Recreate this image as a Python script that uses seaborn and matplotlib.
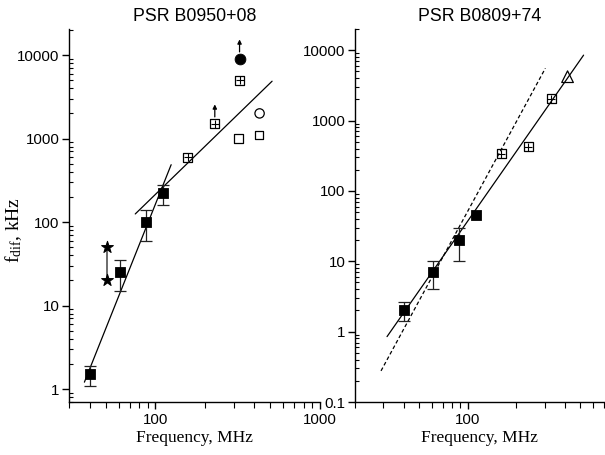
import matplotlib
matplotlib.use("Agg")
import matplotlib.pyplot as plt
import matplotlib.ticker as mticker
from matplotlib.transforms import offset_copy
import seaborn as sns
import numpy as np

# ---------------- data: PSR B0950+08 ----------------
a_sq_f = [40, 61, 88, 111]
a_sq_v = [1.5, 25, 100, 220]
a_sq_lo = [1.1, 15, 60, 160]
a_sq_hi = [1.9, 35, 140, 280]
a_star_f = [51, 51]
a_star_v = [50, 20]
a_cross_f = [158, 230, 325]
a_cross_v = [600, 1500, 5000]
a_dot_f = [325]
a_dot_v = [9000]
a_osq_f = [320, 427]
a_osq_v = [1000, 1100]
a_ocirc_f = [430]
a_ocirc_v = [2000]
a_arrow_f = [230, 325]
a_arrow_v = [1500, 9000]
a_fit1_f = [37.2, 125]
a_fit1_v = [1.21, 486]
a_fit2_f = [75.7, 512]
a_fit2_v = [125, 4860]

# ---------------- data: PSR B0809+74 ----------------
b_sq_f = [40, 61, 88, 112]
b_sq_v = [2, 7, 20, 45]
b_err_f = [40, 61, 88]
b_err_v = [2, 7, 20]
b_err_lo = [1.4, 4.1, 10]
b_err_hi = [2.6, 10, 30]
b_cross_f = [161, 237, 330]
b_cross_v = [335, 425, 2050]
b_tri_f = [416]
b_tri_v = [4200]
b_fit_f = [31.6, 523]
b_fit_v = [0.85, 8500]
b_dash_f = [29, 303]
b_dash_v = [0.277, 5530]

sns.set_theme(style="ticks")
plt.rcParams["font.family"] = ["Liberation Sans", "DejaVu Sans"]
plt.rcParams["axes.linewidth"] = 1.0
plt.rcParams["mathtext.fontset"] = "custom"
plt.rcParams["mathtext.rm"] = "Liberation Serif"
plt.rcParams["mathtext.it"] = "Liberation Serif:italic"
for key in ["text.color", "axes.labelcolor", "xtick.color", "ytick.color",
            "axes.edgecolor", "axes.titlecolor"]:
    plt.rcParams[key] = "black"

fig = plt.figure(figsize=(6.05, 4.55), dpi=100)
axA = fig.add_axes([69/605, 53/455, 251/605, 373/455])
axB = fig.add_axes([355/605, 53/455, 249/605, 373/455])

K = "black"
ms_sq = 55
ms_cross = 42


def crossed(ax, f, v):
    sns.scatterplot(x=f, y=v, marker="s", s=ms_cross, facecolor="none",
                    edgecolor=K, linewidth=0.9, ax=ax, zorder=4)
    sns.scatterplot(x=f, y=v, marker="+", s=ms_cross * 0.75, color=K,
                    linewidth=0.8, ax=ax, zorder=4)


def errs(ax, f, v, lo, hi):
    v = np.array(v); lo = np.array(lo); hi = np.array(hi)
    ax.errorbar(f, v, yerr=[v - lo, hi - v], fmt="none", ecolor="#222222",
                elinewidth=0.9, capsize=4.5, capthick=0.9, zorder=3)


# ---------- panel A ----------
ax = axA
sns.lineplot(x=a_fit1_f, y=a_fit1_v, color=K, lw=0.9, ax=ax, zorder=2)
sns.lineplot(x=a_fit2_f, y=a_fit2_v, color=K, lw=0.9, ax=ax, zorder=2)
sns.lineplot(x=a_star_f, y=a_star_v, color="#444444", lw=1.1, ax=ax, zorder=2,
             estimator=None, sort=False)
errs(ax, a_sq_f, a_sq_v, a_sq_lo, a_sq_hi)
sns.scatterplot(x=a_sq_f, y=a_sq_v, marker="s", s=ms_sq, color=K, edgecolor=K, ax=ax, zorder=4)
sns.scatterplot(x=a_star_f, y=a_star_v, marker="*", s=80, color=K, edgecolor=K, ax=ax, zorder=4)
crossed(ax, a_cross_f, a_cross_v)
sns.scatterplot(x=a_dot_f, y=a_dot_v, marker="o", s=60, color=K, edgecolor=K, ax=ax, zorder=4)
sns.scatterplot(x=a_osq_f, y=a_osq_v, marker="s", s=40, facecolor="none", edgecolor=K, linewidth=0.9, ax=ax, zorder=4)
sns.scatterplot(x=a_ocirc_f, y=a_ocirc_v, marker="o", s=45, facecolor="none", edgecolor=K, linewidth=0.9, ax=ax, zorder=4)
ax.set_xlim(30, 1000)
ax.set_ylim(0.7, 20500)
ax.set_title("PSR B0950+08", fontsize=12.8, pad=6)

# up arrows (lower limits)
for x, y in zip(a_arrow_f, a_arrow_v):
    t0 = offset_copy(axA.transData, fig=fig, x=0, y=5, units="points")
    t1 = offset_copy(axA.transData, fig=fig, x=0, y=14, units="points")
    axA.annotate("", xy=(x, y), xycoords=t1, xytext=(x, y), textcoords=t0,
                 arrowprops=dict(arrowstyle="-|>", color=K, lw=0.9,
                                 mutation_scale=6, shrinkA=0, shrinkB=0))

# ---------- panel B ----------
ax = axB
sns.lineplot(x=b_fit_f, y=b_fit_v, color=K, lw=0.9, ax=ax, zorder=2)
sns.lineplot(x=b_dash_f, y=b_dash_v, color=K, lw=0.9, ax=ax, zorder=2, linestyle=(0, (3, 2)))
errs(ax, b_err_f, b_err_v, b_err_lo, b_err_hi)
sns.scatterplot(x=b_sq_f, y=b_sq_v, marker="s", s=ms_sq, color=K, edgecolor=K, ax=ax, zorder=4)
crossed(ax, b_cross_f, b_cross_v)
sns.scatterplot(x=b_tri_f, y=b_tri_v, marker="^", s=70, facecolor="none", edgecolor=K, linewidth=0.9, ax=ax, zorder=4)
ax.set_xlim(20, 700)
ax.set_ylim(0.1, 20000)
ax.set_title("PSR B0809+74", fontsize=12.8, pad=6)

for ax in (axA, axB):
    ax.set_xscale("log")
    ax.set_yscale("log")
    sns.despine(ax=ax)
    ax.yaxis.set_major_formatter(mticker.FuncFormatter(lambda v, p: f"{v:g}"))
    ax.xaxis.set_major_formatter(mticker.FuncFormatter(lambda v, p: f"{v:g}"))
    ax.xaxis.set_minor_formatter(mticker.NullFormatter())
    ax.yaxis.set_minor_locator(mticker.LogLocator(base=10, subs=np.arange(2, 10), numticks=20))
    ax.tick_params(axis="y", which="major", direction="out", length=5, width=1, labelsize=10.8, pad=2)
    ax.tick_params(axis="y", which="minor", direction="in", length=3, width=0.8)
    ax.tick_params(axis="x", which="major", direction="out", length=5, width=1, labelsize=10.8, pad=3)
    ax.tick_params(axis="x", which="minor", direction="out", length=4, width=0.8)
    ax.set_xlabel("Frequency, MHz", family=["Liberation Serif"], fontsize=12.5, labelpad=2)
    ax.set_ylabel("")

axA.set_ylabel(r"f$_{\mathrm{dif}}$, kHz", family=["Liberation Serif"], fontsize=14)
axA.yaxis.set_label_coords(-0.179, 0.461)

fig.savefig("out.png", dpi=100)
